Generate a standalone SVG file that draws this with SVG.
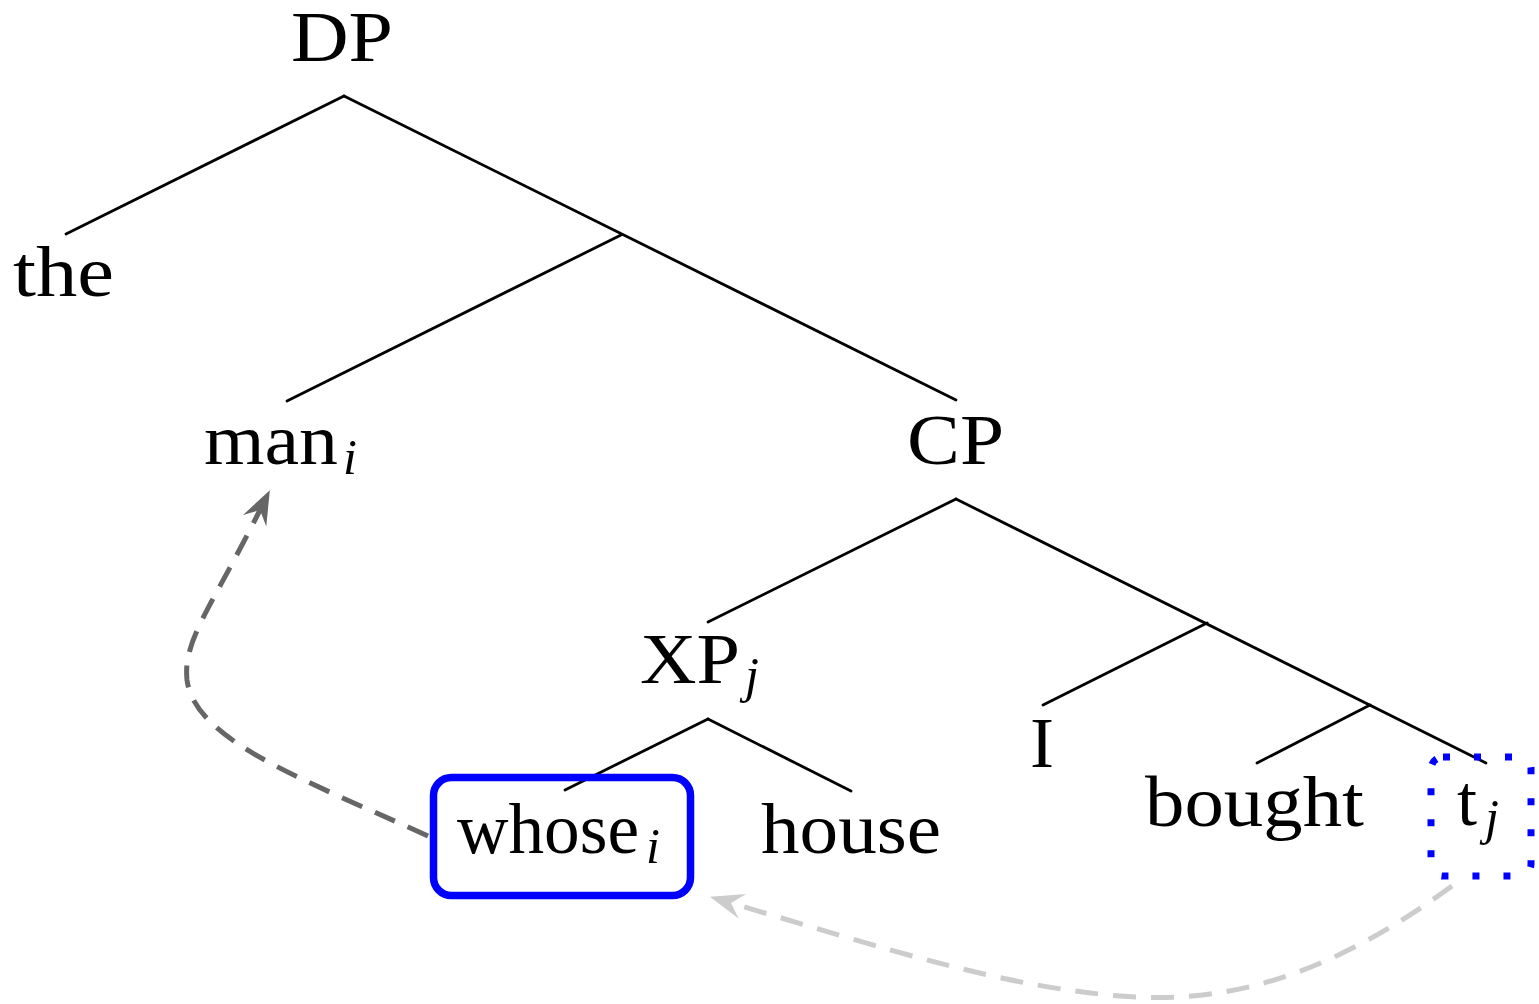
<svg xmlns="http://www.w3.org/2000/svg" width="1539" height="1004" viewBox="0 0 1539 1004">
<style>
.lbl{font-family:"Liberation Serif","Times New Roman",serif;font-size:72px;fill:#000}
.sub{font-family:"Liberation Serif","Times New Roman",serif;font-size:50px;font-style:italic;fill:#000}
.edge{stroke:#000;stroke-width:2.8;fill:none;stroke-linecap:round}
.mv-dark{stroke:#666;stroke-width:5;fill:none;stroke-dasharray:22 14}
.mv-light{stroke:#ccc;stroke-width:5;fill:none;stroke-dasharray:23 15}
</style>
<defs>
<marker id="ahDark" markerUnits="userSpaceOnUse" viewBox="-40 -20 70 40" markerWidth="70" markerHeight="40" refX="0" refY="0" orient="auto" overflow="visible">
<path d="M22 0 L-12 -13 L0 0 L-12 13 Z" fill="#666"/>
</marker>
<marker id="ahLight" markerUnits="userSpaceOnUse" viewBox="-40 -20 70 40" markerWidth="70" markerHeight="40" refX="0" refY="0" orient="auto" overflow="visible">
<path d="M22 0 L-12 -13 L0 0 L-12 13 Z" fill="#ccc"/>
</marker>
</defs>
<rect width="1539" height="1004" fill="#fff"/>
<g id="edges">
<line class="edge" x1="344" y1="96" x2="66" y2="234"/>
<line class="edge" x1="344" y1="96" x2="956" y2="400"/>
<line class="edge" x1="621" y1="235" x2="287" y2="401"/>
<line class="edge" x1="956" y1="499" x2="708" y2="622"/>
<line class="edge" x1="956" y1="499" x2="1486" y2="763"/>
<line class="edge" x1="1207" y1="623" x2="1043" y2="705"/>
<line class="edge" x1="1370" y1="705" x2="1257" y2="763"/>
<line class="edge" x1="708" y1="719" x2="565" y2="790"/>
<line class="edge" x1="708" y1="719" x2="851" y2="791"/>
</g>
<g id="movement">
<path class="mv-dark" d="M428 836 C300 778 195 740 187 680 C183 640 210 610 260 510" marker-end="url(#ahDark)"/>
<path class="mv-light" d="M1452 886 C1330 975 1230 1005 1120 996 C1000 986 890 950 731 903" marker-end="url(#ahLight)"/>
</g>
<g id="DP"><text class="lbl" x="291" y="61" textLength="102" lengthAdjust="spacingAndGlyphs">DP</text></g>
<g id="the"><text class="lbl" x="13" y="296" textLength="101" lengthAdjust="spacingAndGlyphs">the</text></g>
<g id="man"><text class="lbl" x="204" y="464" textLength="134" lengthAdjust="spacingAndGlyphs">man</text><text class="sub" x="343" y="474">i</text></g>
<g id="CP"><text class="lbl" x="907" y="464" textLength="97" lengthAdjust="spacingAndGlyphs">CP</text></g>
<g id="XP"><text class="lbl" x="640" y="683" textLength="100" lengthAdjust="spacingAndGlyphs">XP</text><text class="sub" x="745" y="692">j</text></g>
<g id="whose"><rect x="433.5" y="777.5" width="257" height="118" rx="18" fill="none" stroke="#00f" stroke-width="7.5"/><text class="lbl" x="457" y="853" textLength="182" lengthAdjust="spacingAndGlyphs">whose</text><text class="sub" x="646" y="863">i</text></g>
<g id="house"><text class="lbl" x="761" y="853" textLength="180" lengthAdjust="spacingAndGlyphs">house</text></g>
<g id="I"><text class="lbl" x="1030" y="767">I</text></g>
<g id="bought"><text class="lbl" x="1145" y="826" textLength="219" lengthAdjust="spacingAndGlyphs">bought</text></g>
<g id="t"><rect x="1431" y="757" width="100" height="119" rx="12" fill="none" stroke="#00f" stroke-width="7" stroke-dasharray="7 24"/><text class="lbl" x="1457" y="825">t</text><text class="sub" x="1485" y="834">j</text></g>
</svg>
